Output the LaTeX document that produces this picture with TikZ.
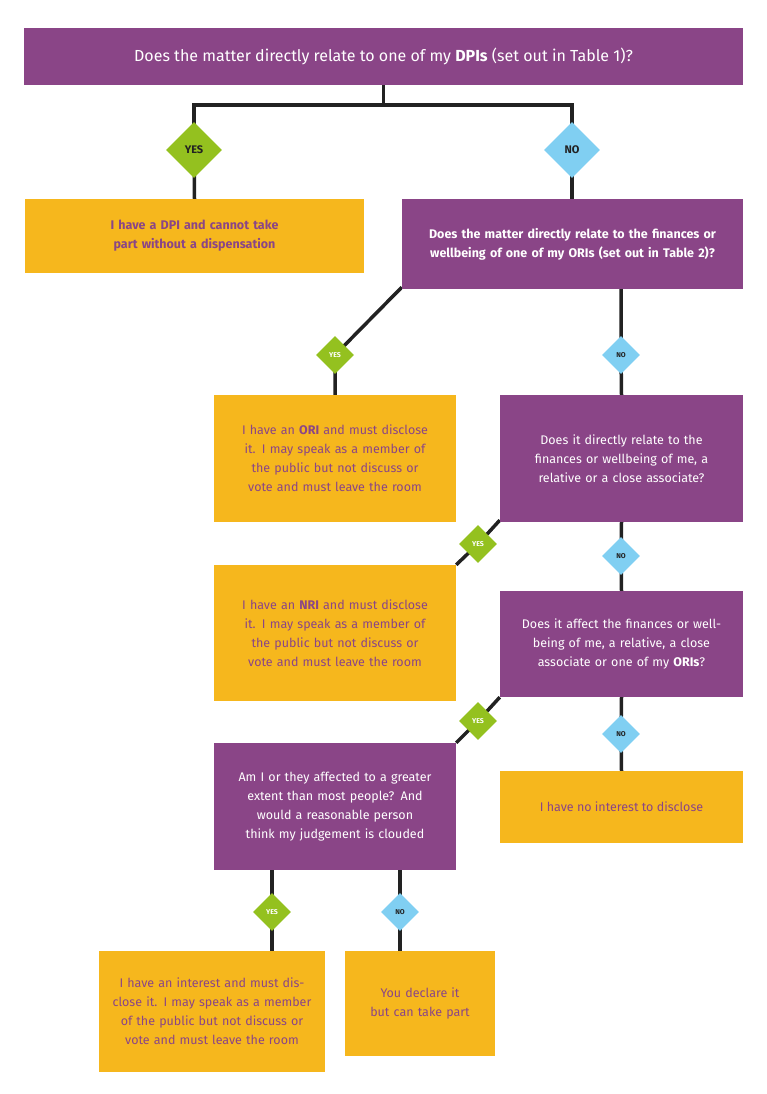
\documentclass[tikz,border=0pt]{standalone}
\usepackage{fontspec}
\setmainfont{Fira Sans}
\usetikzlibrary{shapes.geometric,backgrounds}
\definecolor{pur}{HTML}{8A4587}
\definecolor{org}{HTML}{F6B71D}
\definecolor{grn}{HTML}{94C11F}
\definecolor{blu}{HTML}{80CFF2}
\definecolor{ln}{HTML}{222222}
\begin{document}
\begin{tikzpicture}[x=1pt,y=-1pt,
 q/.style={fill=pur,text=white,align=center,font=\fontsize{12.5}{19}\selectfont\mdseries,inner sep=0},
 a/.style={fill=org,text=pur,align=center,font=\fontsize{12.5}{19}\selectfont,inner sep=0},
 yes/.style={diamond,fill=grn,minimum size=38pt,inner sep=0,font=\fontsize{7}{8}\selectfont\bfseries,text=white},
 no/.style={diamond,fill=blu,minimum size=38pt,inner sep=0,font=\fontsize{7}{8}\selectfont\bfseries,text=ln},
 big/.style={minimum size=56pt,font=\fontsize{11}{12}\selectfont\bfseries,text=ln},
 c/.style={draw=ln,line width=3.5pt}]
\useasboundingbox (0,0) rectangle (767,1094);
\node[q,minimum width=719pt,minimum height=57pt,font=\fontsize{16}{19}\selectfont] (t) at (383.5,56.5) {Does the matter directly relate to one of my \textbf{DPIs} (set out in Table 1)?};
\node[yes,big] (y1) at (194,150) {YES};
\node[no,big] (n1) at (572,150) {NO};
\node[a,minimum width=339pt,minimum height=74pt,text width=310pt,font=\fontsize{12.5}{19}\selectfont\bfseries] (dpi) at (194.5,236) {I have a DPI and cannot take part without a dispensation};
\node[q,minimum width=341pt,minimum height=90pt,text width=300pt,font=\fontsize{12.5}{19}\selectfont\bfseries] (q2) at (572.5,244) {Does the matter directly relate to the finances or wellbeing of one of my ORIs (set out in Table 2)?};
\node[yes] (y2) at (335,355) {YES};
\node[no] (n2) at (621,355) {NO};
\node[a,minimum width=242pt,minimum height=127pt,text width=215pt] (ori) at (335,458.5) {I have an \textbf{ORI} and must disclose it. I may speak as a member of the public but not discuss or vote and must leave the room};
\node[q,minimum width=243pt,minimum height=127pt,text width=200pt] (q3) at (621.5,458.5) {Does it directly relate to the finances or wellbeing of me, a relative or a close associate?};
\node[yes] (y3) at (478,544) {YES};
\node[no] (n3) at (621,556) {NO};
\node[a,minimum width=242pt,minimum height=136pt,text width=215pt] (nri) at (335,633) {I have an \textbf{NRI} and must disclose it. I may speak as a member of the public but not discuss or vote and must leave the room};
\node[q,minimum width=243pt,minimum height=106pt,text width=200pt] (q4) at (621.5,644) {Does it affect the finances or wellbeing of me, a relative, a close associate or one of my \textbf{ORIs}?};
\node[yes] (y4) at (478,721) {YES};
\node[no] (n4) at (621,734) {NO};
\node[q,minimum width=242pt,minimum height=127pt,text width=195pt] (q5) at (335,806.5) {Am I or they affected to a greater extent than most people? And would a reasonable person think my judgement is clouded};
\node[a,minimum width=243pt,minimum height=72pt] (none) at (621.5,807) {I have no interest to disclose};
\node[yes] (y5) at (272,912) {YES};
\node[no] (n5) at (400,912) {NO};
\node[a,minimum width=226pt,minimum height=121pt,text width=205pt] (int) at (212,1011.5) {I have an interest and must disclose it. I may speak as a member of the public but not discuss or vote and must leave the room};
\node[a,minimum width=150pt,minimum height=105pt,text width=120pt] (dec) at (420,1003.5) {You declare it but can take part};
\begin{scope}[on background layer]
\draw[c] (t.south) -- ++(0,20) coordinate (m) -| (y1.center);
\draw[c] (m) -| (n1.center);
\draw[c] (y1.center) -- (dpi.north);
\draw[c] (n1.center) -- (q2.north -| n1);
\draw[c] (q2.south west) ++(0,-2) -- (y2.center) -- (ori.north);
\draw[c] (q2.south -| n2) -- (n2.center) -- (q3.north);
\draw[c] (q3.south west) ++(0,-2) -- (y3.center) -- (nri.north east);
\draw[c] (q3.south) -- (n3.center) -- (q4.north);
\draw[c] (q4.south west) -- (y4.center) -- (q5.north east);
\draw[c] (q4.south) -- (n4.center) -- (none.north);
\draw[c] (q5.south -| y5) -- (y5.center) -- (int.north -| y5);
\draw[c] (q5.south -| n5) -- (n5.center) -- (dec.north -| n5);
\end{scope}
\end{tikzpicture}
\end{document}
